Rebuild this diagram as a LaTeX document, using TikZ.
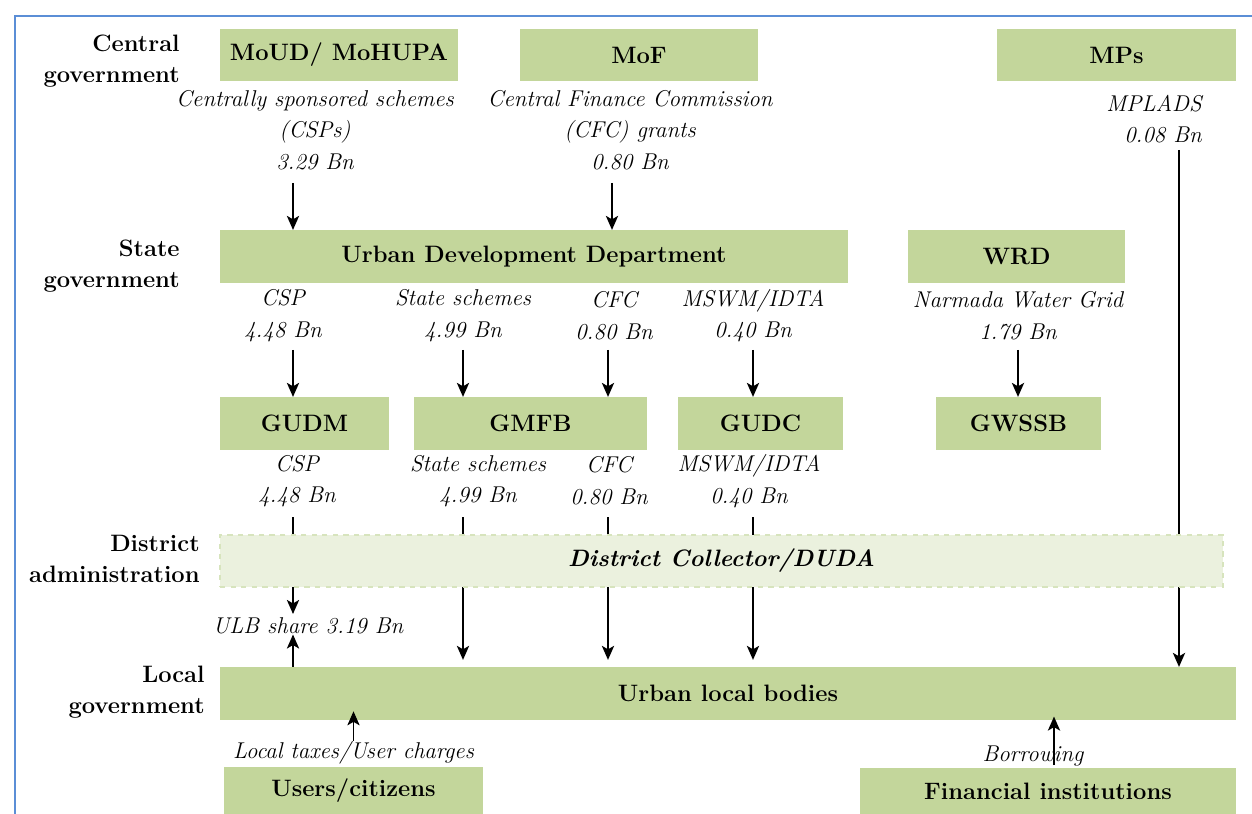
\documentclass[tikz,border=0pt]{standalone}
\usepackage{xcolor}
\usepackage{tikz}
\usetikzlibrary{positioning,arrows.meta}
\definecolor{Sprout}{HTML}{C3D69B}
\definecolor{Frost}{HTML}{EBF1DE}
\definecolor{Moss}{HTML}{D7E4BD}
\definecolor{Cornflower}{HTML}{5B8ED6}

\begin{document}
\begin{tikzpicture}[x=0.02cm, y=-0.02cm, node distance=0.2cm,
    every node/.style={font=\fontsize{13}{18}\selectfont},
    agency/.style={fill=Sprout, minimum height=1.05cm, font=\fontsize{13.5}{18}\selectfont\bfseries},
    fund/.style={align=center, inner sep=0pt, font=\fontsize{13}{18}\selectfont\itshape},
    tier/.style={align=right, anchor=east, inner sep=0pt, font=\fontsize{13.5}{18}\selectfont\bfseries},
    flow/.style={-{Stealth[length=8pt,width=7pt,inset=2pt]}, line width=0.8pt}]
      \useasboundingbox (0,0) rectangle (1252,814);
      \draw[Cornflower, line width=1.2pt] (15,814) -- (15,16) -- (1252,16);

      % tiers
      \node[tier] (central) at (180,61) {Central\\government};
      \node[tier] (state) at (180,266) {State\\government};
      \node[tier] (district) at (200,559) {District\\administration};
      \node[tier] (local) at (205,692) {Local\\government};

      % agencies
      \node[agency, minimum width=4.76cm] (moud) at (339,55) {MoUD/ MoHUPA};
      \node[agency, minimum width=4.76cm] (mof) at (639,55) {MoF};
      \node[agency, minimum width=4.78cm] (mps) at (1116.5,55) {MPs};
      \node[agency, minimum width=12.56cm] (udd) at (534,256.5) {Urban Development Department};
      \node[agency, minimum width=4.34cm] (wrd) at (1016.5,256.5) {WRD};
      \node[agency, minimum width=3.38cm] (gudm) at (304.5,423.5) {GUDM};
      \node[agency, minimum width=4.66cm] (gmfb) at (530.5,423.5) {GMFB};
      \node[agency, minimum width=3.3cm] (gudc) at (760.5,423.5) {GUDC};
      \node[agency, minimum width=3.3cm] (gwssb) at (1018.5,423.5) {GWSSB};
      \node[agency, minimum width=20.32cm] (ulb) at (728,693.5) {Urban local bodies};
      \node[agency, minimum width=5.18cm, minimum height=0.94cm] (users) at (353.5,790.5) {Users/citizens};
      \node[agency, minimum width=7.52cm, minimum height=0.94cm] (fin) at (1048,791) {Financial institutions};

      % fund flows
      \node[fund] (cspfund) at (315,130) {Centrally sponsored schemes\\(CSPs)\\3.29 Bn};
      \node[fund] (cfcfund) at (630,130) {Central Finance Commission\\(CFC) grants\\0.80 Bn};
      \node[fund, anchor=east, align=right] (mpfund) at (1202,119) {MPLADS\\0.08 Bn};
      \node[fund] (udcsp) at (283,315.5) {CSP\\4.48 Bn};
      \node[fund] (udstate) at (463,315.5) {State schemes\\4.99 Bn};
      \node[fund] (udcfc) at (614,315.5) {CFC\\0.80 Bn};
      \node[fund] (udmswm) at (753,315.5) {MSWM/IDTA\\0.40 Bn};
      \node[fund] (narmada) at (1018,315.5) {Narmada Water Grid\\1.79 Bn};
      \node[fund] (gucsp) at (297,481) {CSP\\4.48 Bn};
      \node[fund] (gustate) at (478,481) {State schemes\\4.99 Bn};
      \node[fund] (gucfc) at (609,481) {CFC\\0.80 Bn};
      \node[fund] (gumswm) at (749,481) {MSWM/IDTA\\0.40 Bn};
      \node[fund] (ulbshare) at (308,626) {ULB share 3.19 Bn};
      \node[fund, above=0.04cm of users] (taxes) {Local taxes/User charges};
      \node[fund] (borrow) at (1033,756) {Borrowing};

      \coordinate (csp0) at (293,183);
      \coordinate (cfc0) at (612,183);
      \coordinate (mp0) at (1179,150);
      \coordinate (csp1) at (293,350);
      \coordinate (state1) at (463,350);
      \coordinate (cfc1) at (608,350);
      \coordinate (mswm1) at (753,350);
      \coordinate (wrd1) at (1018,350);
      \coordinate (csp2) at (293,517);
      \coordinate (state2) at (463,517);
      \coordinate (cfc2) at (608,517);
      \coordinate (mswm2) at (753,517);
      \coordinate (borrow0) at (1054,765);

      \draw[flow] (csp0) -- (csp0 |- udd.north);
      \draw[flow] (cfc0) -- (cfc0 |- udd.north);
      \draw[flow] (mp0) -- (mp0 |- ulb.north);
      \draw[flow] (csp1) -- (csp1 |- gudm.north);
      \draw[flow] (state1) -- (state1 |- gmfb.north);
      \draw[flow] (cfc1) -- (cfc1 |- gmfb.north);
      \draw[flow] (mswm1) -- (mswm1 |- gudc.north);
      \draw[flow] (wrd1) -- (wrd1 |- gwssb.north);
      \draw[flow, shorten >=2pt] (csp2) -- (csp2 |- ulbshare.north);
      \foreach \c in {state2,cfc2,mswm2}
        \draw[flow, shorten >=4pt] (\c) -- (\c |- ulb.north);
      \draw[flow] (csp2 |- ulb.north) -- (csp2 |- ulbshare.south);
      \draw[flow, shorten >=-5pt] (taxes.north) -- (taxes.north |- ulb.south);
      \draw[flow, shorten >=-2pt] (borrow0) -- (borrow0 |- ulb.south);

      % district layer sits over the flows
      \node[fill=Frost, draw=Moss, dashed, line width=0.8pt, minimum width=20.06cm, minimum height=1.04cm,
        font=\fontsize{13.5}{18}\selectfont\bfseries\itshape] (duda) at (721.5,561) {District Collector/DUDA};
    \end{tikzpicture}
\end{document}
